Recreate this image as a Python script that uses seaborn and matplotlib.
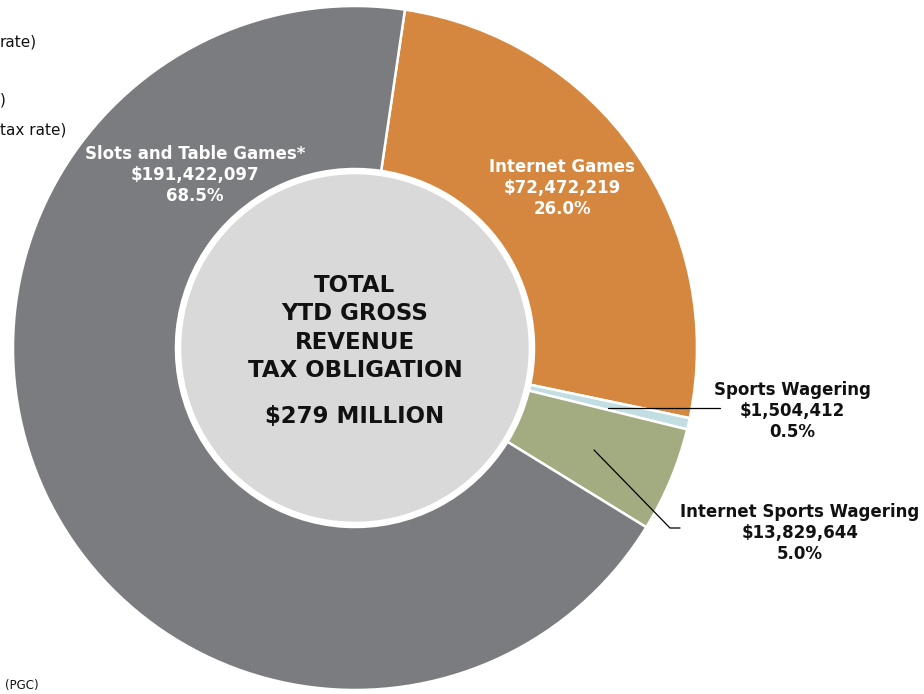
import matplotlib
matplotlib.use("Agg")
import matplotlib.pyplot as plt
import seaborn as sns

sns.set_theme(style="white")
plt.rcParams["font.family"] = ["DejaVu Sans"]

# data
categories = ["Internet Games", "Sports Wagering", "Internet Sports Wagering", "Slots and Table Games*"]
values = [72472219, 1504412, 13829644, 191422097]
pct_labels = ["26.0%", "0.5%", "5.0%", "68.5%"]
colors = ["#d5873f", "#c3dee2", "#a3ab80", "#7b7c80"]
total_text = "$279 MILLION"

W, H = 924, 694
f = plt.figure(figsize=(W / 100, H / 100), dpi=100)
ax = f.add_axes([0, 0, 1, 1])


def py(y):
    # pixel row -> data y
    return H - y


cx, cy, r = 355, py(348), 342
ax.pie(
    values,
    colors=colors,
    startangle=81.6,
    counterclock=False,
    center=(cx, cy),
    radius=r,
    frame=True,
    wedgeprops=dict(width=r - 179, edgecolor="white", linewidth=1.8),
)
ax.set_xlim(0, W)
ax.set_ylim(0, H)
ax.set_aspect("equal")
ax.axis("off")

# inner grey disc
ax.add_patch(plt.Circle((cx, cy), 173, color="#d9d9d9", zorder=3))

ax.text(cx, py(328), "TOTAL\nYTD GROSS\nREVENUE\nTAX OBLIGATION", ha="center", va="center",
        fontsize=16.5, fontweight="bold", color="#111111", linespacing=1.3, zorder=4)
ax.text(cx, py(416), total_text, ha="center", va="center",
        fontsize=16.5, fontweight="bold", color="#111111", zorder=4)


def fmt(i):
    return f"{categories[i]}\n${values[i]:,}\n{pct_labels[i]}"


lab = dict(ha="center", va="center", fontsize=12, fontweight="bold", linespacing=1.2, zorder=4)
ax.text(195, py(175), fmt(3), color="white", **lab)
ax.text(562, py(188), fmt(0), color="white", **lab)
ax.text(792, py(411), fmt(1), color="#111111", **lab)
ax.text(800, py(533), fmt(2), color="#111111", **lab)

# leader lines
ax.plot([608, 720], [py(408), py(408)], color="black", lw=0.9, zorder=4)
ax.plot([594, 670, 680], [py(450), py(528), py(528)], color="black", lw=0.9, zorder=4)

# cut-off text at the left edge
ax.text(0, py(42), "rate)", ha="left", va="center", fontsize=11, color="#111111")
ax.text(0, py(100), ")", ha="left", va="center", fontsize=11, color="#111111")
ax.text(0, py(130), "tax rate)", ha="left", va="center", fontsize=11, color="#111111")
ax.text(5, py(685), "(PGC)", ha="left", va="center", fontsize=8.5, color="#111111")

f.savefig("out.png", dpi=100)
